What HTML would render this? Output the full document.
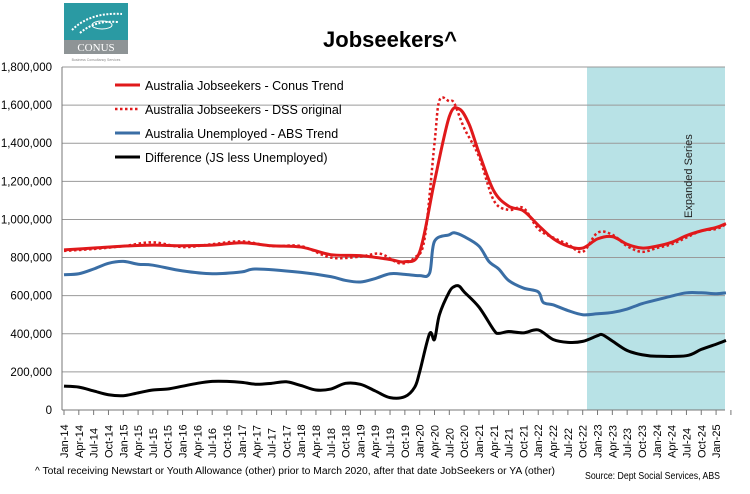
<!DOCTYPE html>
<html><head><meta charset="utf-8"><style>
body{margin:0;background:#fff;width:750px;height:489px;overflow:hidden;font-family:"Liberation Sans",sans-serif}
</style></head><body>
<svg id="s" width="750" height="489" xmlns="http://www.w3.org/2000/svg" font-family="Liberation Sans, sans-serif">
<rect x="0" y="0" width="750" height="489" fill="#fff"/>
<rect x="64" y="3" width="64" height="37" fill="#2a9aa3"/>
<rect x="64" y="40" width="64" height="14" fill="#8e9496"/>
<text x="96" y="51" font-family="Liberation Serif, serif" font-size="11" fill="#fff" text-anchor="middle">CONUS</text>
<text x="96" y="61" font-size="3.5" fill="#888" text-anchor="middle">Business Consultancy Services</text>
<g fill="none" stroke="#fff" stroke-dasharray="2 1.5" stroke-width="2"><path d="M72 30 Q90 12 122 14"/><path d="M80 33 Q95 20 118 22"/><ellipse cx="102" cy="25" rx="10" ry="4" stroke-width="1" stroke-dasharray="none"/></g>
<text x="390" y="47" font-size="22" font-weight="bold" text-anchor="middle">Jobseekers^</text>
<rect x="587" y="67" width="138" height="343" fill="#b8e2e6"/>
<g id="grid" stroke="#9a9a9a" stroke-width="1"></g>
<g id="yl" font-size="11.5" text-anchor="end" fill="#000"></g>
<g id="xl" font-size="11" fill="#000"></g>
<text transform="translate(692,218) rotate(-90)" font-size="11" fill="#222">Expanded Series</text>
<g id="lines"></g>
<g font-size="12.5" fill="#000">
<line x1="115" y1="85" x2="140" y2="85" stroke="#e0191b" stroke-width="3"/><text x="145" y="90">Australia Jobseekers - Conus Trend</text>
<line x1="115" y1="109" x2="140" y2="109" stroke="#e0191b" stroke-width="2.5" stroke-dasharray="2.5 2.5"/><text x="145" y="114">Australia Jobseekers - DSS original</text>
<line x1="115" y1="133" x2="140" y2="133" stroke="#3a6ea5" stroke-width="3"/><text x="145" y="138">Australia Unemployed - ABS Trend</text>
<line x1="115" y1="157" x2="140" y2="157" stroke="#000" stroke-width="3"/><text x="145" y="162">Difference (JS less Unemployed)</text>
</g>
<text x="35" y="474" font-size="10" textLength="520" lengthAdjust="spacingAndGlyphs">^ Total receiving Newstart or Youth Allowance (other) prior to March 2020,  after that date JobSeekers or YA (other)</text>
<text x="720" y="479" font-size="10" text-anchor="end" textLength="135" lengthAdjust="spacingAndGlyphs">Source: Dept Social Services, ABS</text>
</svg>
<script>
var NS="http://www.w3.org/2000/svg",s=document.getElementById('s');
function el(p,t,a,txt){var e=document.createElementNS(NS,t);for(var k in a)e.setAttribute(k,a[k]);if(txt)e.textContent=txt;document.getElementById(p).appendChild(e);return e;}
function Y(v){return 410-v*343/1800;}
function X(m){return 64+m*14.82/3;}
for(var i=0;i<=9;i++){var y=Y(i*200);
 el('grid','line',{x1:62,x2:725,y1:y,y2:y,stroke:i==0?'#777':'#9a9a9a'});
 el('yl','text',{x:52,y:y+4},i==0?'0':(i*200).toLocaleString('en-US')+',000');}
el('grid','line',{x1:62,x2:62,y1:67,y2:410,stroke:'#777'});
var mn=['Jan','Apr','Jul','Oct'];
for(var q=0;q<=45;q++){var x=X(q*3);el('grid','line',{x1:x,x2:x,y1:410,y2:415,stroke:'#777'});
 if(q<=44){var lab=mn[q%4]+'-'+(14+Math.floor(q/4));var t=el('xl','text',{transform:'translate('+(x+4)+',458) rotate(-90)'},lab);}}
function M(y,mo){return (y-2014)*12+mo-1;}
function path(pts,st){var d='';var P=pts.map(function(p){return [X(M(p[0],p[1])),Y(p[2])];});
 for(var i=0;i<P.length;i++){if(i==0){d='M'+P[0][0]+' '+P[0][1];continue;}
  var p0=P[Math.max(i-2,0)],p1=P[i-1],p2=P[i],p3=P[Math.min(i+1,P.length-1)];
  var c1=[p1[0]+(p2[0]-p0[0])/6,p1[1]+(p2[1]-p0[1])/6],c2=[p2[0]-(p3[0]-p1[0])/6,p2[1]-(p3[1]-p1[1])/6];
  d+=' C'+c1+' '+c2+' '+p2;}
 st.d=d;st.fill='none';el('lines','path',st);}
var red=[[14,1,840],[14,7,850],[15,1,860],[15,7,865],[16,1,862],[16,7,865],[17,1,878],[17,7,862],[18,1,855],[18,7,815],[19,1,810],[19,7,790],[19,10,778],[20,1,830],[20,4,1200],[20,7,1540],[20,9,1580],[20,11,1500],[21,1,1350],[21,4,1150],[21,7,1070],[21,10,1045],[22,1,970],[22,4,900],[22,7,860],[22,10,850],[23,1,898],[23,4,910],[23,7,870],[23,10,850],[24,1,860],[24,4,880],[24,7,915],[24,10,940],[25,1,958],[25,3,978]];
var dss=[[14,1,835],[14,7,845],[15,1,860],[15,7,880],[16,1,855],[16,7,870],[17,1,885],[17,7,860],[18,1,860],[18,7,800],[19,1,805],[19,5,820],[19,9,770],[19,12,800],[20,2,900],[20,4,1400],[20,5,1625],[20,7,1620],[20,8,1610],[20,10,1480],[21,1,1330],[21,4,1100],[21,7,1050],[21,10,1060],[22,1,950],[22,4,905],[22,7,870],[22,10,830],[23,1,930],[23,4,920],[23,7,860],[23,10,830],[24,1,850],[24,4,870],[24,7,905],[24,10,940],[25,1,950],[25,3,975]];
var blue=[[14,1,710],[14,4,715],[14,7,740],[14,10,770],[15,1,780],[15,4,765],[15,7,760],[16,1,730],[16,7,715],[17,1,725],[17,4,740],[18,1,722],[18,7,700],[18,10,680],[19,1,672],[19,4,690],[19,7,715],[19,10,712],[20,1,705],[20,3,718],[20,4,885],[20,7,920],[20,8,930],[20,10,910],[21,1,860],[21,3,780],[21,5,740],[21,7,680],[21,10,640],[22,1,620],[22,2,565],[22,4,552],[22,7,522],[22,10,500],[23,1,505],[23,4,512],[23,7,530],[23,10,558],[24,1,578],[24,4,598],[24,7,615],[24,10,615],[25,1,610],[25,3,615]];
var blk=[[14,1,125],[14,4,120],[14,7,100],[14,10,80],[15,1,75],[15,4,90],[15,7,105],[15,10,110],[16,1,125],[16,4,140],[16,7,150],[16,10,150],[17,1,145],[17,4,135],[17,7,140],[17,10,148],[18,1,128],[18,4,105],[18,7,110],[18,10,140],[19,1,135],[19,4,100],[19,7,65],[19,10,70],[19,12,120],[20,1,200],[20,3,400],[20,4,370],[20,5,500],[20,7,620],[20,8,648],[20,9,650],[20,10,620],[21,1,540],[21,4,420],[21,5,402],[21,7,412],[21,10,405],[22,1,420],[22,4,370],[22,7,355],[22,10,360],[23,1,390],[23,2,395],[23,4,362],[23,7,312],[23,10,290],[24,1,282],[24,7,285],[24,10,318],[25,1,345],[25,3,365]];
function fix(a){return a.map(function(p){return [2000+p[0],p[1],p[2]];});}
path(fix(blk),{stroke:'#000','stroke-width':3});
path(fix(blue),{stroke:'#3a6ea5','stroke-width':3});
path(fix(dss),{stroke:'#e0191b','stroke-width':2.5,'stroke-dasharray':'2.5 2.5'});
path(fix(red),{stroke:'#e0191b','stroke-width':3});
</script>
</body></html>
